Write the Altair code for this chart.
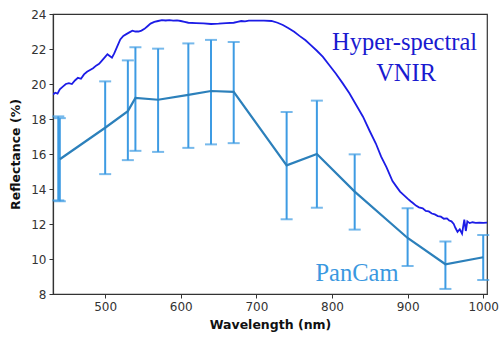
import altair as alt
import pandas as pd

# Hyper-spectral VNIR spectrum
hs_nm = [431, 434, 437, 440, 444, 448, 452, 456, 460, 464, 468, 472, 476, 480, 484, 488, 492, 496,
         500, 503, 506, 509, 512, 516, 520, 524, 528, 532, 536, 540, 544, 548, 552, 556, 560, 565,
         570, 575, 580, 585, 590, 595, 600, 605, 610, 620, 630, 640, 650, 660, 670, 675, 680, 685,
         690, 700, 710, 720, 728, 735, 742, 750, 757, 765, 772, 780, 788, 796, 805, 814, 823, 832,
         841, 850, 858, 865, 872, 880, 885, 890, 895, 900, 904, 907, 911, 915, 920, 924, 928, 932,
         936, 940, 944, 948, 952, 955, 958, 961, 963, 966, 969, 972, 975, 977, 979, 982, 986, 990,
         995, 1000, 1005]
hs_val = [19.40, 19.50, 19.45, 19.70, 19.85, 20.00, 20.05, 20.00, 20.20, 20.35, 20.30, 20.55, 20.70,
          20.80, 20.90, 21.05, 21.15, 21.35, 21.55, 21.70, 21.60, 21.50, 21.75, 22.15, 22.55, 22.75,
          22.85, 22.95, 23.05, 23.00, 23.00, 23.05, 23.15, 23.30, 23.45, 23.55, 23.60, 23.65, 23.63,
          23.65, 23.62, 23.64, 23.60, 23.55, 23.50, 23.48, 23.46, 23.43, 23.45, 23.48, 23.50, 23.55,
          23.60, 23.58, 23.62, 23.62, 23.62, 23.60, 23.50, 23.37, 23.20, 22.98, 22.75, 22.50, 22.22,
          21.90, 21.55, 21.10, 20.60, 20.05, 19.47, 18.80, 18.13, 17.30, 16.60, 15.85, 15.25, 14.45,
          14.15, 13.85, 13.65, 13.45, 13.30, 13.20, 13.05, 12.95, 12.90, 12.75, 12.72, 12.60, 12.55,
          12.45, 12.42, 12.30, 12.32, 12.20, 12.15, 12.00, 11.80, 11.55, 11.70, 11.45, 12.25, 11.60,
          12.15, 12.05, 12.10, 12.07, 12.08, 12.07, 12.08]

# PanCam filter reflectances with error bars
pc_nm = [438, 440, 500, 530, 540, 570, 610, 640, 670, 740, 780, 830, 900, 950, 1000]
pc_mean = [15.75, 15.70, 17.50, 18.45, 19.20, 19.10, 19.38, 19.60, 19.55, 15.35, 16.00, 13.85, 11.20, 9.70, 10.10]
pc_hi = [18.15, 18.05, 20.15, 21.35, 22.10, 22.02, 22.32, 22.52, 22.40, 18.40, 19.05, 15.98, 12.90, 11.00, 11.37]
pc_lo = [13.35, 13.30, 14.85, 15.65, 16.18, 16.12, 16.35, 16.55, 16.62, 12.27, 12.93, 11.68, 9.60, 8.29, 8.80]

# Annotations
lab_text = ["Hyper-spectral", "VNIR", "PanCam"]
lab_nm = [896, 898, 833]
lab_val = [21.94, 20.17, 8.74]
lab_color = ["#1a1ad0", "#1a1ad0", "#3a98e0"]

x_ticks = [500, 600, 700, 800, 900, 1000]
y_ticks = [8, 10, 12, 14, 16, 18, 20, 22, 24]

hs = pd.DataFrame({"nm": hs_nm, "val": hs_val})
pc = pd.DataFrame({"nm": pc_nm, "mean": pc_mean, "hi": pc_hi, "lo": pc_lo})
pc_line = pc[pc["nm"] != 438]
labs = pd.DataFrame({"t": lab_text, "nm": lab_nm, "val": lab_val, "c": lab_color})

xsc = alt.Scale(domain=[431, 1005], nice=False, zero=False)
ysc = alt.Scale(domain=[8, 24], nice=False, zero=False)

xax = alt.Axis(title="Wavelength (nm)", values=x_ticks, grid=False,
               format="d", tickSize=4, labelPadding=3, titlePadding=6,
               labelOverlap=False, labelFlush=False)
yax = alt.Axis(title="Reflectance (%)", values=y_ticks, grid=False,
               format="d", tickSize=4, labelPadding=3, titlePadding=8,
               labelOverlap=False, labelFlush=False)


def X(f="nm:Q"):
    return alt.X(f, scale=xsc, axis=xax)


def Y(f):
    return alt.Y(f, scale=ysc, axis=yax)


hs_layer = alt.Chart(hs).mark_line(color="#1c1ce6", strokeWidth=1.8, clip=True).encode(
    x=X(), y=Y("val:Q"))

err = alt.Chart(pc).mark_rule(color="#3d9be3", strokeWidth=2).encode(
    x=X(), y=Y("lo:Q"), y2="hi:Q")
cap_hi = alt.Chart(pc).mark_tick(color="#3d9be3", orient="horizontal", size=12, thickness=2).encode(
    x=X(), y=Y("hi:Q"))
cap_lo = alt.Chart(pc).mark_tick(color="#3d9be3", orient="horizontal", size=12, thickness=2).encode(
    x=X(), y=Y("lo:Q"))

pc_layer = alt.Chart(pc_line).mark_line(color="#2c80bb", strokeWidth=2.2).encode(
    x=X(), y=Y("mean:Q"))

txt = alt.Chart(labs).mark_text(font="Liberation Serif", fontSize=24.5, align="center",
                                baseline="alphabetic").encode(
    x=X(), y=Y("val:Q"),
    text="t:N", color=alt.Color("c:N", scale=None))

chart = alt.layer(hs_layer, err, cap_hi, cap_lo, pc_layer, txt).properties(
    width=434, height=280,
    autosize=alt.AutoSizeParams(type="none"),
    padding={"left": 53, "top": 14, "right": 13, "bottom": 45},
    background="white",
).configure_view(stroke="#333333", strokeWidth=1.2).configure_axis(
    domainColor="#333333", tickColor="#333333", labelColor="#333333", titleColor="#111111",
    labelFont="DejaVu Sans", labelFontSize=12, titleFont="DejaVu Sans", titleFontSize=12.5,
    titleFontWeight="bold", domainWidth=1.2)

chart.save("out.html", embed_options={"renderer": "svg", "actions": False})
